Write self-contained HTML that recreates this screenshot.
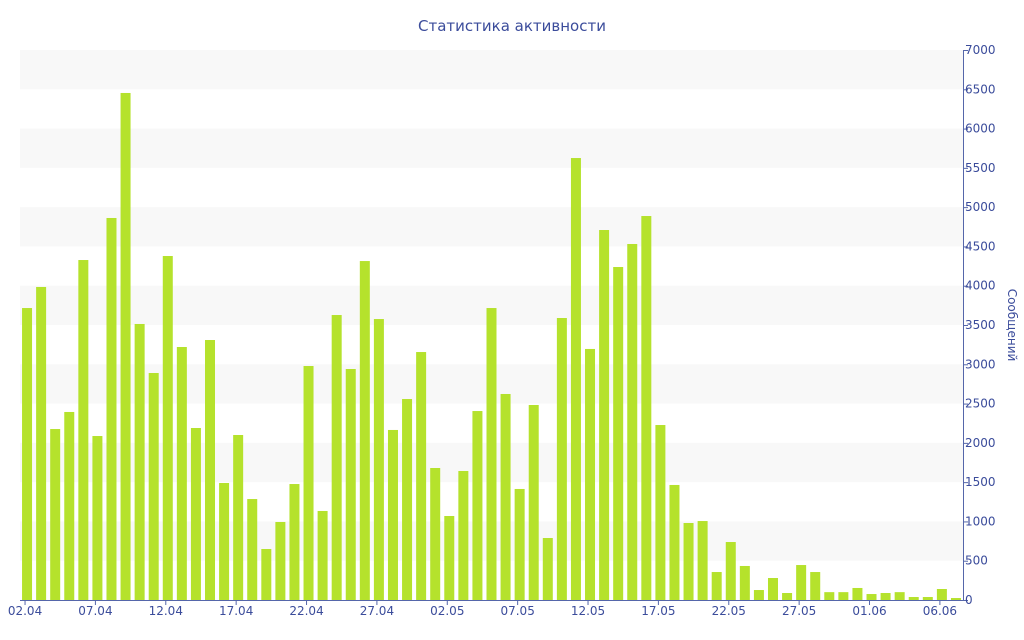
<!DOCTYPE html>
<html><head><meta charset="utf-8"><style>
html,body{margin:0;padding:0;background:#fff;}
svg{display:block;font-family:"DejaVu Sans","Liberation Sans",sans-serif;}
</style></head><body>
<svg id="c" width="1024" height="640">
<text x="512" y="31" text-anchor="middle" font-size="15" fill="#3b4c9b">Статистика активности</text>
<g id="bands"></g><g id="bars"></g><g id="axes"></g>
</svg>
<script>
const startDay = [2, 4, 2024];
const values = [3716,3984,2176,2393,4327,2087,4862,6453,3513,2889,4378,3220,2189,3309,1489,2100,1285,649,993,1476,2978,1133,3627,2940,4314,3576,2164,2558,3156,1680,1069,1642,2405,3716,2622,1413,2482,789,3589,5625,3195,4709,4238,4531,4887,2227,1464,980,1005,356,738,433,127,280,89,445,356,100,100,153,76,89,100,38,38,140,25];
const yTicks = [0,500,1000,1500,2000,2500,3000,3500,4000,4500,5000,5500,6000,6500,7000];
const xLabelEvery = 5;
const NS="http://www.w3.org/2000/svg";
const L=20,R=963,T=50,B=600,yMax=7000;
const slot=(R-L)/values.length;
const y=v=>B-(v/yMax)*(B-T);
const xc=i=>L+slot*(i+0.5);
function el(tag,attrs,parent){const e=document.createElementNS(NS,tag);for(const k in attrs)e.setAttribute(k,attrs[k]);parent.appendChild(e);return e;}
const bands=document.getElementById('bands'),bars=document.getElementById('bars'),axes=document.getElementById('axes');
for(let k=yTicks.length-1;k>0;k-=2){
  const r=el('rect',{x:L,y:y(yTicks[k]),width:R-L,height:y(yTicks[k-1])-y(yTicks[k]),fill:'#f8f8f8'},bands);
  
  
}
values.forEach((v,i)=>{
  const r=el('rect',{x:xc(i)-5,y:y(v),width:10,height:B-y(v),fill:'#b5e22c'},bars);
  
  
});
const ax=el('line',{x1:R+0.5,y1:T,x2:R+0.5,y2:B,stroke:'#5566aa'},axes);


yTicks.forEach(t=>{
  el('line',{x1:R,y1:y(t)+0.5,x2:R+5,y2:y(t)+0.5,stroke:'#5566aa'},axes);
  const tx=el('text',{x:R+2,y:y(t)+4,'font-size':12,fill:'#3b4c9b'},axes);
  tx.textContent=t;
  
  
});
const xa=el('line',{x1:L,y1:B+0.5,x2:R,y2:B+0.5,stroke:'#5566aa'},axes);


const d0=new Date(startDay[2],startDay[1]-1,startDay[0]);
values.forEach((v,i)=>{
  if(i%xLabelEvery)return;
  const d=new Date(d0.getTime()+i*86400000);
  el('line',{x1:xc(i)-2,y1:B,x2:xc(i)-2,y2:B+5,stroke:'#5566aa'},axes);
  const tx=el('text',{x:xc(i)-2,y:B+15,'font-size':12,fill:'#3b4c9b','text-anchor':'middle'},axes);
  tx.textContent=String(d.getDate()).padStart(2,'0')+'.'+String(d.getMonth()+1).padStart(2,'0');
  
  
});
const yt=el('text',{x:0,y:0,'font-size':12,fill:'#3b4c9b','text-anchor':'middle',transform:'translate(1008,325) rotate(90)'},axes);
yt.textContent='Сообщений';


</script>
</body></html>
